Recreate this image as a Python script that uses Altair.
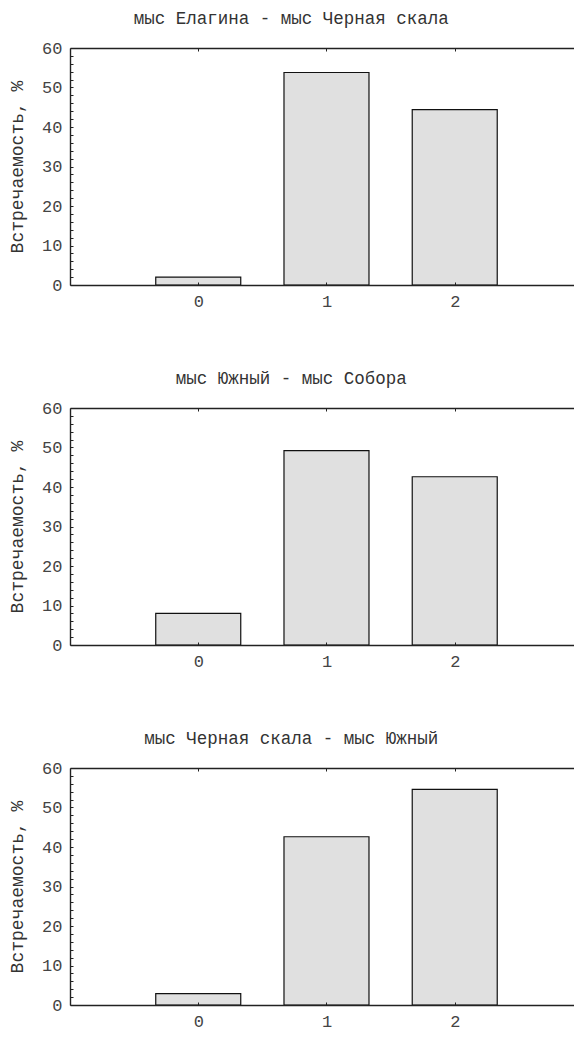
import altair as alt
import pandas as pd

categories = [0, 1, 2]
titles = [
    "мыс Елагина - мыс Черная скала",
    "мыс Южный - мыс Собора",
    "мыс Черная скала - мыс Южный",
]
values_1 = [2.0, 53.8, 44.4]
values_2 = [8.0, 49.2, 42.6]
values_3 = [2.9, 42.6, 54.6]
x_ticks = [0, 1, 2]
y_ticks = list(range(0, 61, 2))
y_title = "Встречаемость, %"

FONT = "Liberation Mono"
INK = "#222222"
H = 237
W = 504


def panel(title, values):
    df = pd.DataFrame({"cat": categories, "val": values})
    base = alt.Chart(df)
    xscale = alt.Scale(domain=[-1, 2.93], nice=False, zero=False, padding=0)
    yenc = alt.Y(
        "val:Q",
        scale=alt.Scale(domain=[0, 60], nice=False, zero=True, padding=0),
        axis=alt.Axis(
            values=y_ticks,
            labelExpr="datum.value % 10 == 0 ? datum.label : ''",
            labelOverlap=False,
            title=y_title,
            ticks=False,
            grid=True,
            gridDash=[3, 2000],
            gridColor=INK,
            gridWidth=1,
            labelPadding=8,
            titlePadding=15,
            zindex=1,
        ),
    )
    bars = base.mark_bar(size=85, fill="#e0e0e0", stroke="#111111", strokeWidth=1.2).encode(
        x=alt.X(
            "cat:Q",
            scale=xscale,
            axis=alt.Axis(
                values=x_ticks,
                format="d",
                title=None,
                ticks=False,
                grid=True,
                gridDash=[3, H - 6, 3, 2000],
                gridColor=INK,
                gridWidth=1,
                labelPadding=8,
                zindex=1,
            ),
        ),
        y=yenc,
    )
    top = base.mark_bar(size=85, opacity=0).encode(
        x=alt.X(
            "cat:Q",
            scale=xscale,
            axis=alt.Axis(
                orient="top", labels=False, ticks=False, grid=False, title=None,
                domain=True, minExtent=0, maxExtent=0,
            ),
        ),
        y=yenc,
    )
    return (
        alt.layer(bars, top)
        .resolve_axis(x="independent")
        .properties(
            width=W,
            height=H,
            title=alt.TitleParams(
                title, font=FONT, fontSize=17.5, fontWeight="normal", color="#333333",
                offset=12, anchor="middle", frame="bounds",
            ),
        )
    )


chart = (
    alt.vconcat(
        panel(titles[0], values_1),
        panel(titles[1], values_2),
        panel(titles[2], values_3),
        spacing=60,
    )
    .configure(padding={"left": 0, "top": 1, "right": 0, "bottom": 3})
    .configure_view(stroke=None)
    .configure_axis(
        labelFont=FONT,
        labelFontSize=17,
        labelColor="#444444",
        titleFont=FONT,
        titleFontSize=18,
        titleFontWeight="normal",
        titleColor="#333333",
        domainColor=INK,
        domainWidth=1.4,
    )
)

chart.save("out.html", embed_options={"renderer": "svg", "actions": False})
